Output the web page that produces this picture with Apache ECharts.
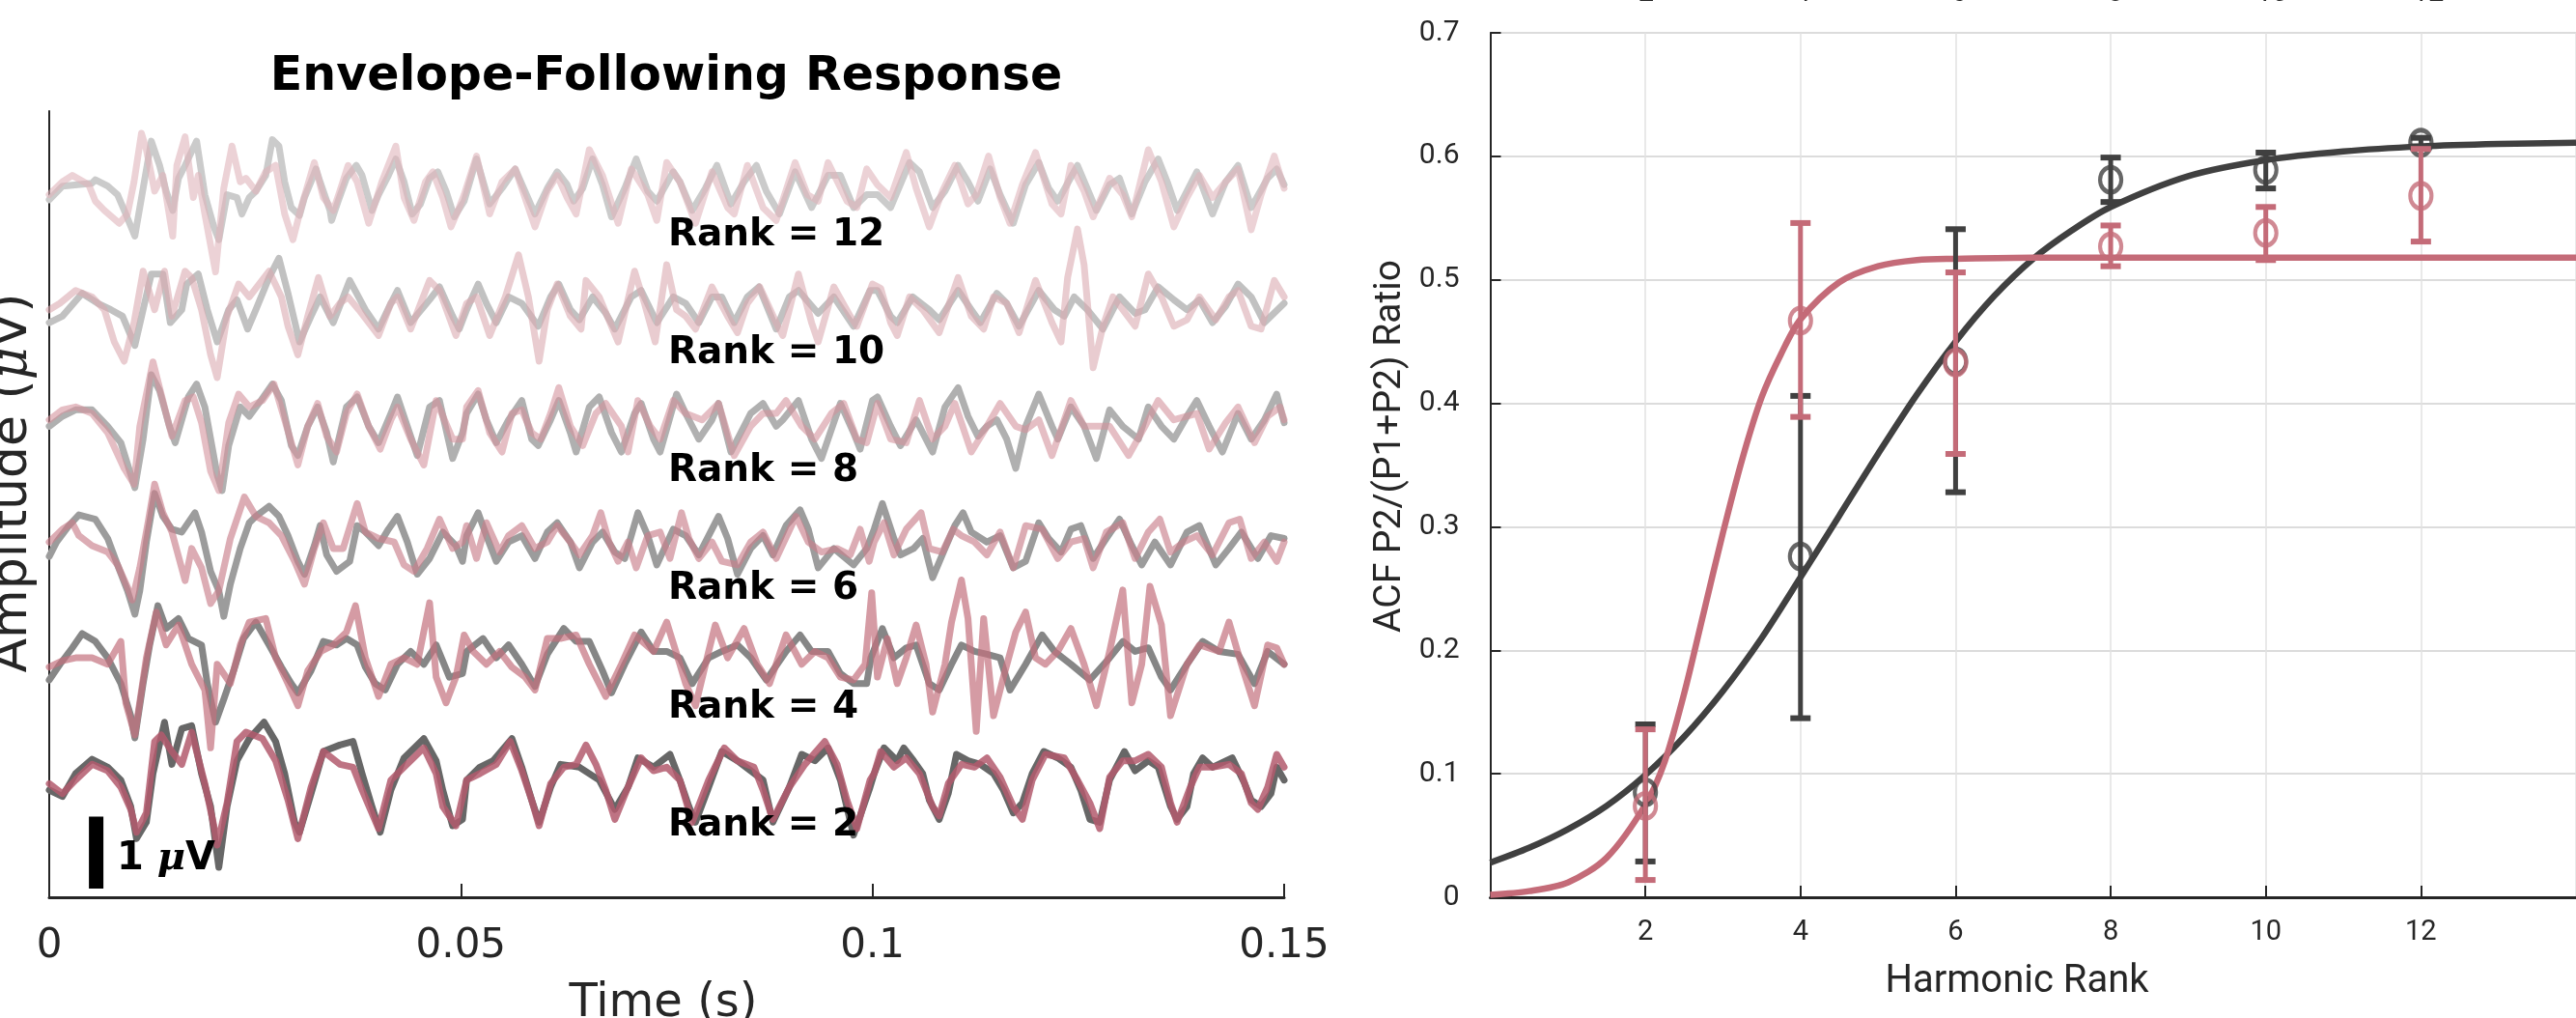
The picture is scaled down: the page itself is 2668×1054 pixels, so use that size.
<!DOCTYPE html>
<html>
<head>
<meta charset="utf-8">
<script src="https://cdn.jsdelivr.net/npm/echarts/dist/echarts.min.js"></script>
<style>
  html, body { margin: 0; padding: 0; background: #fff; }
  #chart { width: 2668px; height: 1054px; }
</style>
</head>
<body>
<div id="chart"></div>
<script>
// ---- left panel: envelope-following response traces, [time ms, amplitude uV] ----
const rankLabels = [2, 4, 6, 8, 10, 12];
const rankOffsetUv = [1.59, 3.26, 4.97, 6.59, 8.22, 9.9];

const grayRank2 = [[0,-0.09],[1.6,-0.18],[3.2,0.14],[5.2,0.34],[7.1,0.23],[8.7,0.05],[9.9,-0.32],[10.6,-0.77],[11.8,-0.54],[12.6,0.14],[14.0,0.86],[14.9,0.27],[16.1,0.77],[17.3,0.81],[18.5,0.14],[19.6,-0.32],[20.6,-1.17],[21.6,-0.32],[22.8,0.32],[24.3,0.63],[26.1,0.86],[27.5,0.59],[28.6,0.14],[29.8,-0.54],[30.4,-0.68],[31.8,-0.14],[33.3,0.45],[35.3,0.54],[36.9,0.59],[38.0,0.14],[39.2,-0.32],[40.2,-0.68],[41.5,-0.09],[43.1,0.36],[45.5,0.63],[47.0,0.32],[47.8,-0.09],[49.0,-0.59],[50.2,-0.5],
  [50.7,0.05],[52.3,0.23],[53.9,0.32],[56.2,0.63],[57.4,0.23],[58.6,-0.23],[59.5,-0.54],[60.9,-0.05],[62.1,0.27],[64.4,0.23],[66.8,0.05],[68.7,-0.36],[70.3,-0.05],[71.5,0.36],[73.4,0.23],[75.4,0.41],[76.6,0.05],[77.7,-0.32],[78.5,-0.54],[80.1,-0.05],[81.7,0.45],[83.6,0.32],[86.7,0.05],[87.9,-0.54],[89.9,-0.05],[91.4,0.41],[93.0,0.32],[94.6,0.5],[96.1,0.05],[97.7,-0.72],[99.7,-0.05],
  [100.2,0.14],[101.4,0.5],[103.0,0.32],[103.8,0.5],[105.0,0.32],[106.1,0.14],[106.9,-0.23],[108.1,-0.5],[109.2,-0.14],[110.2,0.41],[111.6,0.32],[113.1,0.27],[114.7,0.14],[115.9,-0.09],[117.1,-0.41],[118.2,-0.27],[119.4,0.14],[120.8,0.45],[122.5,0.36],[124.1,0.23],[125.3,-0.09],[126.4,-0.5],[127.6,-0.54],[128.8,0.05],[130.6,0.45],[131.9,0.18],[133.5,0.32],[134.7,0.23],[136.2,-0.32],[137.0,-0.5],[138.2,-0.32],[139.0,0.14],[140.1,0.36],[141.3,0.23],[143.7,0.36],[145.2,0],[146.0,-0.23],[147.2,-0.32],[148.4,-0.14],[149.1,0.23],[150,0.05]];
const pinkRank2 = [[0,0],[1.6,-0.14],[3.2,0.05],[5.2,0.27],[7.1,0.18],[8.7,-0.05],[9.9,-0.36],[10.6,-0.68],[11.8,-0.41],[12.8,0.59],[13.6,0.68],[14.9,0.45],[16.1,0.27],[17.3,0.72],[18.9,0],[20.0,-0.59],[20.4,-0.86],[21.6,-0.27],[22.8,0.59],[23.9,0.72],[25.9,0.63],[27.5,0.32],[29.0,-0.23],[30.2,-0.77],[31.8,-0.05],[33.3,0.45],[35.3,0.27],[36.9,0.23],[38.0,-0.09],[40.0,-0.63],[41.5,0.05],[43.1,0.23],[45.5,0.5],[47.0,0.14],[47.8,-0.32],[49.4,-0.59],
  [50.7,0.05],[52.3,0.14],[54.3,0.27],[56.0,0.59],[57.4,0.18],[58.6,-0.23],[59.5,-0.59],[60.9,0],[62.5,0.23],[64.0,0.27],[65.2,0.54],[66.4,0.27],[67.6,-0.09],[68.7,-0.5],[70.3,-0.05],[71.9,0.36],[73.4,0.18],[75.0,0.23],[76.6,0.05],[78.1,-0.54],[80.1,0.05],[82.0,0.5],[83.6,0.32],[85.6,0.23],[86.7,-0.09],[87.9,-0.5],[89.9,-0.05],[91.8,0.27],[94.2,0.59],[95.7,0.27],[96.9,-0.23],[98.1,-0.63],[99.7,0.05],
  [100.2,0.14],[101.0,0.45],[102.6,0.23],[104.1,0.36],[105.7,0.14],[107.3,-0.32],[108.1,-0.45],[109.2,0],[110.8,0.27],[112.4,0.23],[113.9,0.36],[115.5,0.09],[117.1,-0.32],[118.2,-0.5],[119.4,0.05],[121.0,0.41],[123.3,0.36],[124.9,0.05],[126.4,-0.27],[127.6,-0.63],[128.8,0.09],[130.4,0.32],[131.9,0.32],[133.5,0.41],[135.1,0.23],[136.2,-0.27],[137.0,-0.54],[138.6,-0.05],[139.7,0.23],[141.3,0.23],[143.3,0.27],[144.8,0.14],[146.0,-0.27],[146.8,-0.36],[148.0,-0.05],[149.1,0.41],[150,0.23]];

const grayRank4 = [[0,-0.22],[1.3,0],[2.8,0.23],[4.0,0.43],[5.6,0.32],[7.1,0.09],[8.7,-0.27],[9.9,-0.72],[10.4,-1.03],[11.4,-0.27],[12.2,0.27],[13.2,0.82],[14.2,0.5],[15.7,0.64],[16.9,0.36],[18.5,0.27],[19.2,-0.27],[20.2,-0.81],[21.2,-0.49],[22.4,-0.09],[23.6,0.36],[25.1,0.59],[26.7,0.27],[28.2,-0.04],[29.4,-0.27],[30.2,-0.4],[31.8,-0.09],[33.3,0.32],[34.9,0.27],[36.1,0.36],[37.4,0.27],[38.4,-0.04],[39.6,-0.27],[40.8,-0.36],[42.3,0],[43.9,0.18],[45.5,0],[47.0,0.27],[48.6,-0.18],[50.2,-0.13],
  [50.7,0.18],[52.7,0.36],[54.3,0.09],[55.8,0.27],[57.4,0],[59.0,-0.31],[60.5,0.14],[62.5,0.5],[64.0,0.32],[65.6,0.32],[67.2,-0.09],[68.3,-0.4],[69.9,0],[71.9,0.45],[73.4,0.18],[75.0,0.18],[76.6,0.09],[78.1,-0.27],[80.1,0.09],[81.7,0.18],[83.6,0.27],[85.2,0.09],[87.1,-0.22],[89.5,0.18],[91.2,0.41],[92.6,0.18],[94.6,0.18],[96.1,-0.13],[97.7,-0.27],[99.3,-0.27],
  [99.8,0.09],[101.2,0.5],[102.6,0.09],[104.1,0.23],[105.3,0.27],[106.9,-0.27],[108.1,-0.36],[109.6,0],[110.8,0.27],[112.4,0.18],[113.9,0.14],[115.5,0.09],[116.7,-0.36],[118.6,0],[120.6,0.41],[122.1,0.18],[124.1,0],[126.4,-0.22],[128.8,0.09],[130.4,0.32],[131.9,0.18],[133.5,0.23],[135.1,-0.18],[136.2,-0.36],[138.2,0],[140.1,0.32],[142.1,0.18],[144.4,0.14],[146.4,-0.27],[148.0,0.18],[150,0]];
const pinkRank4 = [[0,-0.04],[1.6,0.05],[3.2,0.09],[5.2,0.09],[7.1,0],[8.7,0.32],[9.3,-0.54],[10.4,-0.99],[11.8,0.09],[13.0,0.73],[14.2,0.27],[15.7,0.55],[17.3,0],[18.9,-0.36],[19.6,-1.17],[20.4,0],[22.0,-0.27],[23.2,0.27],[24.3,0.59],[26.3,0.64],[27.5,0.09],[29.0,-0.27],[30.2,-0.58],[31.4,-0.09],[33.0,0.18],[34.5,0.27],[36.1,0.45],[37.2,0.82],[38.4,0.09],[40.0,-0.45],[41.5,0],[43.1,0.09],[44.7,0],[46.2,0.86],[47.0,-0.18],[48.2,-0.54],[49.4,-0.18],
  [50.4,0.41],[51.5,0.18],[53.1,0],[54.7,0.18],[56.2,-0.04],[57.8,-0.18],[59.0,-0.36],[60.5,0.36],[62.1,0.36],[64.0,0.41],[65.6,0],[67.6,-0.45],[69.5,0],[71.1,0.41],[73.4,0.18],[75.0,0.59],[76.6,0],[77.3,-0.27],[78.5,-0.58],[80.1,0.18],[80.9,0.55],[82.4,0.09],[84.4,0.5],[86.0,0],[87.5,-0.27],[89.5,0.41],[91.4,0],[93.0,0.18],[94.6,0.09],[96.1,-0.18],[97.7,-0.22],[99.1,0],
  [99.9,1.0],[100.6,-0.18],[101.8,0.36],[103.0,-0.27],[104.1,0.09],[105.3,0.55],[106.5,0],[107.3,-0.67],[108.8,0],[109.6,0.59],[110.8,1.18],[111.6,0.64],[112.6,-0.94],[113.5,0.64],[114.7,-0.72],[115.9,-0.18],[117.4,0.45],[118.6,0.73],[119.8,0.09],[121.0,0],[122.5,0.18],[124.1,0.5],[125.7,0],[127.2,-0.58],[128.8,0.18],[130.4,1.04],[131.5,-0.54],[132.7,0],[133.7,1.09],[135.1,0.55],[136.2,-0.72],[138.2,0],[139.7,0.27],[142.1,0.18],[143.3,0.59],[144.8,0],[146.4,-0.58],[148.0,0.27],[149.1,0.23],[150,0]];

const grayRank6 = [[0,-0.2],[0.9,0],[2.4,0.23],[3.6,0.38],[5.6,0.32],[7.1,0.05],[8.3,-0.32],[9.5,-0.68],[10.4,-1.01],[11.0,-0.68],[11.8,0],[12.8,0.68],[13.8,0.36],[14.9,0.18],[16.1,0.14],[17.7,0.41],[18.5,0.14],[19.6,-0.41],[20.6,-0.68],[21.2,-1.04],[22.0,-0.59],[23.2,-0.09],[24.3,0.27],[25.1,0.36],[26.7,0.5],[27.9,0.36],[29.0,0.09],[30.2,-0.27],[31.0,-0.45],[32.2,-0.05],[32.9,0.23],[33.7,-0.18],[34.9,-0.41],[36.5,-0.27],[37.4,0.23],[38.4,0.14],[40.0,-0.05],[41.2,0.18],[42.3,0.36],[43.5,0],[44.7,-0.45],[46.2,-0.23],[47.8,0.14],[49.4,-0.05],[50.2,-0.27],
  [50.7,0.09],[52.1,0.41],[53.1,0.09],[54.3,-0.27],[55.8,0],[57.4,0.09],[59.0,-0.23],[60.5,0.14],[61.7,0.27],[63.3,0],[64.4,-0.36],[66.0,0],[67.2,0.14],[68.7,-0.14],[69.9,-0.23],[71.5,0.41],[72.7,0.09],[73.8,-0.32],[75.8,0.18],[77.3,0.09],[78.9,-0.18],[81.3,0.36],[82.4,0.05],[83.6,-0.45],[85.2,-0.09],[86.7,0.09],[87.9,-0.18],[89.5,0.23],[91.2,0.45],[92.2,0.18],[93.4,-0.36],[95.3,-0.09],[97.7,-0.32],[99.3,-0.09],
  [100.2,0.18],[101.2,0.54],[102.6,0.05],[103.4,-0.18],[105.0,-0.09],[106.1,0.05],[107.3,-0.5],[108.8,-0.09],[110.0,0.23],[111.0,0.41],[112.0,0.14],[113.9,0],[115.5,0.09],[117.1,-0.36],[118.6,-0.27],[120.2,0.27],[121.4,0.05],[122.9,-0.14],[124.1,0.18],[125.3,0.23],[126.8,-0.23],[128.4,0.05],[130.0,0.32],[131.5,-0.05],[132.7,-0.32],[134.3,0],[136.2,-0.32],[138.2,0.14],[139.7,0.23],[141.7,-0.32],[143.3,-0.09],[144.8,0.14],[146.8,-0.23],[148.4,0.09],[150,0.05]];
const pinkRank6 = [[0,0],[1.6,0.18],[2.8,0.27],[3.6,0.09],[5.2,-0.05],[7.1,-0.14],[8.3,-0.32],[9.5,-0.63],[10.1,-0.81],[11.0,-0.36],[12.0,0.27],[12.8,0.81],[13.8,0.41],[14.9,0.14],[16.5,-0.54],[17.3,-0.09],[18.5,-0.36],[19.6,-0.86],[20.6,-0.68],[22.0,0.05],[23.7,0.63],[25.1,0.36],[26.7,0.27],[28.2,0.09],[29.8,-0.27],[31.0,-0.59],[32.2,-0.09],[33.3,0.27],[34.5,-0.09],[35.7,-0.09],[37.4,0.54],[38.4,0.14],[40.0,0.05],[41.9,0],[43.1,-0.32],[44.3,-0.41],[45.9,-0.09],[47.4,0.32],[49.0,-0.09],[50.2,0],
  [50.7,0.23],[51.9,-0.23],[53.1,0.27],[54.7,-0.14],[55.8,0.09],[57.4,0.23],[59.0,-0.09],[60.5,0],[61.7,0.23],[63.3,0],[64.4,-0.18],[66.0,0.09],[67.0,0.41],[68.0,0],[69.1,-0.27],[70.3,0],[71.3,-0.36],[72.7,0.09],[74.2,0.14],[75.4,-0.23],[76.8,0.41],[77.7,0.05],[78.9,-0.23],[80.5,0],[81.7,-0.27],[83.6,-0.32],[85.2,0],[86.7,0.14],[88.3,-0.23],[90.7,0.36],[92.2,0],[93.8,-0.14],[95.7,-0.09],[97.3,-0.18],[98.5,0.18],[99.6,-0.27],
  [100.2,0],[101.4,0.27],[102.6,-0.18],[104.1,0.18],[105.9,0.41],[106.9,-0.09],[108.5,-0.14],[109.8,0.18],[110.8,0.09],[112.4,0],[113.9,-0.18],[115.5,0.14],[117.1,-0.36],[118.6,0.23],[120.6,0.18],[122.5,-0.23],[124.1,0],[125.7,0.05],[126.8,-0.36],[128.4,0.14],[130.4,0.27],[131.9,-0.23],[133.5,0.14],[134.9,0.32],[136.2,-0.14],[137.8,0],[139.4,0.09],[141.3,-0.18],[143.3,0.27],[144.6,0.32],[146.0,-0.23],[147.6,0],[149.1,-0.27],[150,0]];

const grayRank8 = [[0,0],[1.6,0.14],[3.2,0.23],[5.2,0.23],[7.1,0],[8.7,-0.23],[10.4,-0.86],[11.4,-0.18],[12.4,0.72],[13.4,0.5],[14.6,0],[15.3,-0.23],[16.9,0.41],[17.9,0.59],[18.9,0.27],[20.4,-0.68],[21.0,-0.9],[21.8,-0.27],[23.2,0.27],[24.3,0.14],[25.7,0.36],[27.1,0.59],[28.2,0.36],[29.4,-0.27],[30.2,-0.41],[31.4,0],[32.6,0.27],[33.7,-0.09],[34.5,-0.5],[36.1,0.27],[37.4,0.41],[38.8,0],[40.0,-0.23],[41.5,0.18],[42.3,0.41],[43.9,-0.14],[44.7,-0.41],[46.2,0.27],[47.4,0.36],[49.0,-0.45],[50.2,-0.09],
  [50.7,0.18],[52.1,0.45],[53.1,0.09],[54.3,-0.23],[55.8,0.09],[57.4,0.36],[58.6,-0.18],[59.4,-0.27],[60.9,0.09],[61.9,0.36],[63.3,-0.09],[64.0,-0.36],[65.6,0.27],[66.8,0.41],[68.3,-0.09],[69.5,-0.36],[71.1,0.18],[71.9,0.32],[73.4,-0.18],[74.2,-0.36],[76.2,0.45],[77.3,0.18],[78.9,-0.18],[80.5,0.09],[81.3,0.32],[82.8,-0.36],[85.2,0.18],[86.7,0.32],[88.3,0],[89.1,0.09],[91.0,0.36],[92.6,-0.18],[93.8,-0.45],[96.1,0.32],[97.7,-0.09],[98.5,-0.32],[100.0,0.36],
  [100.6,0.41],[102.2,0],[103.4,-0.27],[105.3,0.09],[107.3,-0.36],[108.8,0.27],[110.4,0.54],[111.6,0.14],[112.8,-0.14],[113.9,0],[115.1,0.09],[116.3,-0.18],[117.4,-0.59],[118.6,0],[120.2,0.45],[121.8,0],[122.5,-0.18],[124.1,0.27],[125.7,0],[127.2,-0.45],[128.8,0.23],[130.4,0],[132.3,-0.18],[133.5,0.27],[135.1,0],[136.6,-0.18],[138.2,0.14],[139.4,0.36],[140.9,0],[142.5,-0.36],[144.4,0.18],[146.0,-0.18],[147.6,0.09],[149.1,0.45],[150,0.05]];
const pinkRank8 = [[0,0.09],[1.6,0.23],[3.2,0.27],[5.2,0.18],[7.1,-0.09],[9.1,-0.59],[10.3,-0.81],[11.0,0],[12.6,0.9],[13.6,0.45],[14.9,-0.14],[16.5,0.36],[17.5,0.41],[18.5,0.05],[19.6,-0.63],[20.6,-0.9],[21.8,0.05],[23.0,0.45],[24.3,0.27],[25.9,0.36],[27.3,0.59],[28.6,0.09],[30.2,-0.54],[31.4,0],[32.6,0.32],[33.7,-0.14],[34.9,-0.36],[36.1,0.18],[37.4,0.45],[38.8,0],[40.2,-0.32],[41.5,0.09],[42.3,0.27],[43.9,-0.18],[45.5,-0.54],[47.0,0.36],[49.0,-0.18],[50.2,-0.18],
  [50.7,0.27],[52.1,0.5],[53.5,-0.09],[55.0,-0.36],[56.2,0.18],[57.4,0.23],[58.6,-0.09],[59.7,-0.18],[60.9,0.18],[61.9,0.54],[63.3,0],[64.8,-0.27],[66.4,0.18],[67.6,0.32],[69.5,0],[70.3,-0.36],[71.5,0.36],[73.0,0],[74.2,-0.18],[75.8,0.36],[77.3,0.18],[79.3,0.09],[81.3,0.32],[83.2,-0.41],[85.2,0],[86.7,0.18],[88.3,0.18],[89.5,0.36],[91.4,0],[93.0,-0.18],[95.0,0.18],[96.5,0.32],[98.1,-0.18],[99.3,-0.23],
  [100.6,0.32],[102.2,-0.18],[104.1,-0.23],[105.7,0.36],[107.3,-0.18],[108.8,0],[110.0,0.32],[112.0,-0.36],[113.9,0],[115.5,0.32],[117.4,0],[118.6,-0.05],[120.2,0.09],[121.8,-0.41],[124.1,0.36],[125.7,0],[128.8,0],[131.1,-0.41],[133.1,0],[134.7,0.36],[136.6,0.09],[139.4,0.18],[140.9,-0.32],[142.9,0.05],[144.4,0.27],[146.4,-0.23],[148.0,0.14],[149.5,0.27],[150,0.09]];

const grayRank10 = [[0,-0.18],[1.6,-0.09],[4.0,0.23],[5.9,0.09],[7.5,0],[8.9,-0.09],[10.4,-0.5],[11.4,0],[12.4,0.5],[13.8,0.5],[14.7,-0.18],[16.1,0],[16.7,0.36],[18.1,0.5],[19.2,0],[20.4,-0.45],[21.8,0],[22.8,0.14],[24.1,-0.27],[25.1,0],[26.7,0.45],[27.9,0.72],[29.0,0.23],[30.4,-0.45],[31.8,-0.09],[32.9,0.18],[34.5,-0.18],[36.5,0.41],[38.4,0],[40.0,-0.27],[41.5,0.09],[42.3,0.27],[43.9,-0.18],[46.2,0.14],[47.4,0.32],[49.0,-0.09],[49.8,-0.27],
  [50.7,0],[52.1,0.36],[53.1,0.09],[54.3,-0.18],[55.8,0.18],[57.4,0.09],[59.4,-0.23],[60.9,0.18],[61.9,0.36],[63.3,0],[64.4,-0.14],[66.0,0.18],[67.6,-0.05],[68.7,-0.27],[70.7,0.18],[71.9,0.27],[73.8,-0.18],[75.8,0.18],[77.3,0.09],[78.9,-0.18],[80.5,0.18],[81.7,0.18],[83.2,-0.18],[84.8,0.18],[86.2,0.32],[88.3,-0.27],[89.9,0.18],[91.0,0.27],[93.4,-0.05],[95.3,0.18],[97.7,-0.23],[99.7,0.27],
  [100.6,0.27],[102.2,-0.09],[103.0,-0.18],[104.9,0.18],[106.9,0],[108.1,-0.14],[110.4,0.27],[112.0,0],[113.1,-0.18],[115.1,0.23],[116.3,0.09],[117.8,-0.23],[120.2,0.27],[122.1,0],[123.3,-0.09],[124.5,0.18],[126.1,0],[128.0,-0.27],[130.0,0.18],[131.9,-0.05],[133.1,0],[134.7,0.32],[136.6,0.14],[138.2,0],[139.7,0.14],[141.3,-0.18],[142.9,0.05],[144.4,0.36],[146.0,0.18],[147.6,-0.18],[150,0.09]];
const pinkRank10 = [[0,0],[1.3,0.09],[3.2,0.27],[5.2,0.18],[6.7,0],[7.9,-0.45],[9.1,-0.72],[10.3,-0.18],[11.4,0.54],[12.8,0],[14.0,0.54],[14.9,-0.09],[16.5,0.54],[17.3,0.45],[18.5,0],[19.6,-0.63],[20.4,-0.95],[21.6,-0.09],[23.0,0.36],[24.3,0.18],[25.5,0.36],[26.7,0.54],[28.2,0.18],[29.0,-0.23],[30.2,-0.63],[31.4,-0.09],[32.7,0.45],[34.1,-0.09],[35.3,0.09],[36.3,0.18],[37.6,0],[40.0,-0.36],[41.5,0.09],[42.3,0.18],[43.9,-0.27],[46.2,0.41],[47.4,0.27],[49.4,-0.36],
  [50.7,0.09],[51.9,0.18],[53.5,-0.36],[55.4,0.18],[57.0,0.77],[58.2,0.18],[59.5,-0.72],[60.5,0],[61.7,0.36],[63.3,-0.09],[64.6,-0.27],[65.2,0.41],[66.8,0.18],[69.1,-0.45],[71.1,0.54],[72.3,0.09],[73.6,-0.45],[75.0,0.63],[76.2,0],[77.3,-0.09],[78.5,-0.27],[80.5,0.32],[82.4,-0.09],[83.6,-0.32],[84.8,0.09],[86.3,0.32],[88.3,-0.18],[89.1,-0.36],[91.0,0.5],[92.6,-0.18],[93.4,-0.45],[95.3,0.32],[97.3,-0.09],[98.1,-0.23],[100.0,0.36],
  [101.0,0.3],[102.2,-0.18],[103.0,-0.36],[104.5,0.18],[106.1,0],[108.1,-0.32],[110.4,0.45],[112.0,-0.09],[113.5,-0.27],[114.7,0.18],[116.3,0.09],[117.8,-0.32],[119.8,0.41],[121.8,-0.18],[122.9,-0.45],[123.7,0.45],[124.9,1.13],[125.7,0.63],[126.8,-0.81],[128.0,-0.23],[129.2,0.18],[130.4,0],[131.9,-0.23],[133.5,0.5],[135.1,0.18],[136.6,-0.23],[138.2,-0.14],[139.7,0.18],[141.7,-0.14],[143.3,0.18],[144.4,0.27],[146.0,-0.23],[147.2,-0.27],[148.8,0.41],[150,0.18]];

const grayRank12 = [[0,-0.14],[1.6,0.05],[5.2,0.09],[5.6,0.14],[7.1,0.05],[8.3,-0.07],[9.3,-0.34],[10.4,-0.65],[12.4,0.68],[13.4,0.34],[14.2,-0.02],[15.0,-0.29],[15.7,0.16],[16.5,0.34],[17.9,0.68],[18.9,-0.07],[20.0,-0.52],[20.6,-0.7],[21.6,-0.07],[22.8,-0.11],[23.4,-0.34],[24.3,-0.11],[25.1,-0.02],[26.3,0.2],[27.1,0.7],[27.9,0.61],[28.6,0.11],[29.4,-0.25],[30.4,-0.36],[31.0,-0.11],[31.8,0.11],[32.4,0.29],[32.9,0.11],[34.1,-0.29],[34.3,-0.43],[35.1,-0.16],[36.1,0.16],[37.3,0.34],[38.0,0.2],[39.2,-0.29],[40.0,-0.07],[41.2,0.2],[42.1,0.43],[43.1,0.11],[44.1,-0.34],[45.1,-0.2],[46.2,0.16],[47.2,0.25],[48.2,-0.02],[49.2,-0.38],
  [50.4,-0.16],[51.9,0.43],[53.5,-0.2],[55.0,0.02],[56.6,0.29],[59.0,-0.34],[60.5,0.02],[61.7,0.25],[62.9,0.07],[63.7,-0.16],[64.8,0.02],[66.0,0.43],[67.2,0.07],[68.3,-0.38],[69.9,0.02],[71.3,0.43],[72.7,-0.02],[73.8,-0.16],[75.8,0.25],[76.6,0.11],[78.1,-0.29],[79.7,0.02],[81.1,0.34],[82.8,-0.2],[84.4,0.11],[85.9,0.34],[87.1,-0.02],[88.7,-0.34],[90.6,0.25],[92.6,-0.25],[94.6,0.2],[96.1,0.2],[97.7,-0.25],[99.3,-0.07],
  [100.6,-0.07],[102.2,-0.25],[104.5,0.38],[105.7,0.25],[107.3,-0.25],[108.8,-0.02],[110.4,0.34],[111.6,0.11],[112.8,-0.16],[114.3,0.29],[115.5,-0.07],[117.1,-0.47],[118.6,0.07],[120.2,0.38],[121.4,0.02],[122.5,-0.16],[124.9,0.34],[126.4,-0.07],[127.2,-0.29],[128.8,0.07],[130.0,0.16],[131.5,-0.34],[133.1,0.11],[134.7,0.43],[135.8,0.11],[137.0,-0.29],[139.4,0.25],[141.3,-0.34],[142.9,0.11],[144.4,0.34],[146.0,-0.25],[148.0,0.16],[149.1,0.29],[150,0.07]];
const pinkRank12 = [[0,-0.07],[1.6,0.11],[2.8,0.2],[4.8,0.07],[5.6,-0.16],[6.7,-0.29],[8.5,-0.47],[9.5,-0.34],[10.3,0.11],[11.2,0.79],[11.8,0.56],[12.8,-0.02],[13.8,0.2],[15.0,-0.65],[15.5,0.34],[16.5,0.74],[17.5,-0.11],[18.1,0.2],[18.9,-0.34],[20.2,-1.15],[21.2,0.02],[22.2,0.61],[23.2,0.11],[23.9,0.16],[25.1,-0.02],[26.3,0.25],[27.5,0.34],[28.6,-0.34],[29.6,-0.7],[30.6,-0.25],[32.2,0.38],[33.3,-0.11],[34.5,-0.29],[35.3,-0.02],[36.3,0.34],[37.4,0.11],[38.8,-0.47],[40.4,0.11],[42.1,0.61],[43.1,-0.11],[44.3,-0.43],[45.7,0.11],[46.6,0.25],[47.8,-0.11],[48.8,-0.52],[49.8,-0.25],
  [50.4,-0.07],[51.9,0.47],[53.5,-0.34],[55.0,0.11],[56.6,0.29],[59.0,-0.52],[60.5,-0.02],[61.7,0.2],[62.9,-0.11],[64.0,-0.34],[65.6,0.56],[67.2,0.2],[69.1,-0.47],[70.7,0.29],[72.7,-0.07],[73.8,-0.43],[75.0,0.38],[76.6,0.11],[78.5,-0.47],[80.5,0.25],[82.4,-0.25],[83.2,-0.34],[84.8,0.34],[86.7,-0.25],[88.3,-0.43],[90.6,0.38],[92.1,-0.07],[93.4,-0.16],[94.6,0.38],[96.9,-0.16],[98.1,-0.25],[99.3,0.29],
  [100.6,0.07],[102.2,-0.11],[104.1,0.52],[105.3,0.02],[106.9,-0.52],[108.5,-0.02],[110.0,0.34],[111.6,-0.2],[112.6,-0.07],[114.1,0.47],[115.5,-0.11],[116.7,-0.47],[118.2,0.07],[119.8,0.52],[121.8,-0.2],[122.9,-0.34],[124.1,0.34],[125.7,-0.02],[126.8,-0.38],[128.8,0.16],[130.4,-0.07],[131.5,-0.38],[133.5,0.56],[135.1,0.11],[136.6,-0.52],[138.2,-0.11],[139.7,0.2],[141.3,-0.11],[142.9,0.11],[144.4,0.29],[146.0,-0.56],[147.2,-0.07],[148.8,0.47],[150,0.02]];

const grayTraces = [grayRank2, grayRank4, grayRank6, grayRank8, grayRank10, grayRank12];
const pinkTraces = [pinkRank2, pinkRank4, pinkRank6, pinkRank8, pinkRank10, pinkRank12];

// 1 uV scale bar
const scaleBarTime = 0.0057;
const scaleBarUv = [0.12, 1.13];

// ---- right panel: ACF ratio vs harmonic rank ----
const harmonicRanks = [2, 4, 6, 8, 10, 12];
const blackMean = [0.085, 0.276, 0.434, 0.581, 0.589, 0.611];
const blackLow  = [0.029, 0.145, 0.328, 0.563, 0.574, 0.608];
const blackHigh = [0.140, 0.406, 0.541, 0.599, 0.603, 0.615];
const pinkMean  = [0.074, 0.467, 0.433, 0.527, 0.538, 0.568];
const pinkLow   = [0.014, 0.389, 0.359, 0.511, 0.516, 0.531];
const pinkHigh  = [0.136, 0.546, 0.506, 0.544, 0.559, 0.606];

// fitted curves
const blackFitX = [0, 0.5, 1, 1.5, 2, 2.5, 3, 3.5, 4, 4.5, 5, 5.5, 6, 6.5, 7, 7.5, 8, 9, 10, 11, 12, 13, 14];
const blackFitY = [0.028, 0.040, 0.055, 0.074, 0.099, 0.130, 0.167, 0.210, 0.259, 0.309, 0.359, 0.407, 0.450, 0.487, 0.517, 0.540, 0.559, 0.584, 0.597, 0.604, 0.608, 0.610, 0.611];
const pinkFitX = [0, 0.5, 1, 1.5, 2, 2.25, 2.5, 2.75, 3, 3.25, 3.5, 3.75, 4, 4.5, 5, 5.5, 6, 7, 8, 10, 12, 14];
const pinkFitY = [0.002, 0.005, 0.012, 0.032, 0.075, 0.110, 0.165, 0.230, 0.295, 0.355, 0.405, 0.440, 0.468, 0.498, 0.511, 0.516, 0.517, 0.518, 0.518, 0.518, 0.518, 0.518];

// ---- styles ----
const grayColors = ['#676767', '#868686', '#9c9c9c', '#b0b0b0', '#c1c1c1', '#cbcbcb'];
const pinkColors = ['#b35a6d', '#c3717e', '#c9808c', '#d4939c', '#daaab1', '#dfb4bb'];
const pinkOpacity = [0.85, 0.7, 0.65, 0.6, 0.6, 0.6];
const darkColor = '#404040';
const roseColor = '#c46b78';
const axisColor = '#262626';

const chart = echarts.init(document.getElementById('chart'));

function traceSeries(points, color, opacity, i) {
  return {
    type: 'line',
    xAxisIndex: 0,
    yAxisIndex: 0,
    data: points.map(p => [p[0] / 1000, p[1] + rankOffsetUv[i]]),
    symbol: 'none',
    silent: true,
    lineStyle: { color: color, width: 7, opacity: opacity, join: 'round', cap: 'round' },
    z: 2
  };
}

function errorBarSeries(low, high, color, z) {
  return {
    type: 'custom',
    xAxisIndex: 1,
    yAxisIndex: 1,
    z: z,
    silent: true,
    data: harmonicRanks.map((r, k) => [r, low[k], high[k]]),
    encode: { x: 0, y: [1, 2] },
    renderItem: function (params, api) {
      const lo = api.coord([api.value(0), api.value(1)]);
      const hi = api.coord([api.value(0), api.value(2)]);
      const hw = 10.5;
      return {
        type: 'group',
        children: [
          { type: 'line', shape: { x1: lo[0], y1: lo[1], x2: hi[0], y2: hi[1] }, style: { stroke: color, lineWidth: 5 } },
          { type: 'line', shape: { x1: lo[0] - hw, y1: lo[1], x2: lo[0] + hw, y2: lo[1] }, style: { stroke: color, lineWidth: 6 } },
          { type: 'line', shape: { x1: hi[0] - hw, y1: hi[1], x2: hi[0] + hw, y2: hi[1] }, style: { stroke: color, lineWidth: 6 } }
        ]
      };
    }
  };
}

function meanSeries(values, color, z) {
  return {
    type: 'scatter',
    xAxisIndex: 1,
    yAxisIndex: 1,
    z: z,
    silent: true,
    symbol: 'circle',
    symbolSize: [22, 26],
    data: harmonicRanks.map((r, k) => [r, values[k]]),
    itemStyle: { color: 'rgba(0,0,0,0)', borderColor: color, borderWidth: 4.5 }
  };
}

function fitSeries(xs, ys, color, z) {
  return {
    type: 'line',
    xAxisIndex: 1,
    yAxisIndex: 1,
    z: z,
    silent: true,
    smooth: 0.3,
    symbol: 'none',
    data: xs.map((x, k) => [x, ys[k]]),
    lineStyle: { color: color, width: 6.5 }
  };
}

const series = [];
for (let i = rankLabels.length - 1; i >= 0; i--) {
  series.push(traceSeries(grayTraces[i], grayColors[i], 1, i));
  series.push(traceSeries(pinkTraces[i], pinkColors[i], pinkOpacity[i], i));
}
series.push({
  type: 'line',
  xAxisIndex: 0,
  yAxisIndex: 0,
  z: 5,
  silent: true,
  symbol: 'none',
  data: scaleBarUv.map(v => [scaleBarTime, v]),
  lineStyle: { color: '#000', width: 15, cap: 'butt' }
});
series.push(fitSeries(blackFitX, blackFitY, darkColor, 3));
series.push(fitSeries(pinkFitX, pinkFitY, roseColor, 3));
series.push(errorBarSeries(blackLow, blackHigh, darkColor, 4));
series.push(meanSeries(blackMean, darkColor, 5));
series.push(errorBarSeries(pinkLow, pinkHigh, roseColor, 6));
series.push(meanSeries(pinkMean, roseColor, 7));

function txt(x, y, text, size, opts) {
  opts = opts || {};
  return {
    type: 'text',
    x: x,
    y: y,
    rotation: opts.rotation || 0,
    silent: true,
    z: 20,
    style: {
      text: text,
      fontSize: size,
      fontFamily: opts.family || 'DejaVu Sans',
      fontWeight: opts.weight || 'normal',
      fill: opts.color || axisColor,
      align: opts.align || 'center',
      textAlign: opts.align || 'center',
      verticalAlign: 'middle',
      textVerticalAlign: 'middle'
    }
  };
}

const rankLabelY = [855, 733, 610, 488, 366, 244];
const graphics = [
  txt(690, 80, 'Envelope-Following Response', 49, { weight: 'bold', color: '#000' }),
  txt(687, 1040, 'Time (s)', 48),
  {
    type: 'text', x: 13, y: 500, rotation: Math.PI / 2, silent: true, z: 20,
    style: {
      text: '{n|Amplitude (}{m|\u03bc}{n|V)}',
      align: 'center', textAlign: 'center', verticalAlign: 'middle', textVerticalAlign: 'middle',
      rich: {
        n: { fontFamily: 'DejaVu Sans', fontSize: 52, fill: axisColor, color: axisColor },
        m: { fontFamily: 'DejaVu Serif', fontStyle: 'italic', fontSize: 52, fill: axisColor, color: axisColor }
      }
    }
  },
  txt(2089, 1017, 'Harmonic Rank', 40, { family: 'Roboto' }),
  txt(1440, 462, 'ACF P2/(P1+P2) Ratio', 39, { family: 'Roboto', rotation: Math.PI / 2 }),
  {
    type: 'text', x: 121, y: 890, silent: true, z: 20,
    style: {
      text: '{n|1 }{m|\u03bc}{n|V}',
      align: 'left', textAlign: 'left', verticalAlign: 'middle', textVerticalAlign: 'middle',
      rich: {
        n: { fontFamily: 'DejaVu Sans', fontWeight: 'bold', fontSize: 40, fill: '#000', color: '#000' },
        m: { fontFamily: 'DejaVu Serif', fontStyle: 'italic', fontWeight: 'bold', fontSize: 40, fill: '#000', color: '#000' }
      }
    }
  }
];
rankLabels.forEach((r, i) => {
  graphics.push(txt(692, rankLabelY[i], 'Rank = ' + r, 39, { weight: 'bold', color: '#000', align: 'left' }));
});
// tick labels of the panel above, cut off by the top edge
const topCutX = [1705, 1867, 2029, 2191, 2353, 2515];
harmonicRanks.forEach((r, k) => {
  graphics.push(txt(topCutX[k], -6, String(r), 29, { family: 'Roboto' }));
});

chart.setOption({
  animation: false,
  backgroundColor: '#fff',
  grid: [
    { left: 51, top: 115, width: 1279, height: 814 },
    { left: 1543.5, top: 34, width: 1133, height: 895 }
  ],
  xAxis: [
    {
      gridIndex: 0, type: 'value', min: 0, max: 0.15, interval: 0.05,
      axisLine: { show: true, lineStyle: { color: axisColor, width: 3 } },
      axisTick: { show: true, inside: true, length: 14, lineStyle: { color: axisColor, width: 2 } },
      axisLabel: { margin: 30, fontFamily: 'DejaVu Sans', fontSize: 42, color: axisColor },
      splitLine: { show: false }
    },
    {
      gridIndex: 1, type: 'value', min: 0, max: 14, interval: 2,
      axisLine: { show: true, lineStyle: { color: axisColor, width: 3 } },
      axisTick: { show: true, inside: true, length: 12, lineStyle: { color: axisColor, width: 2 } },
      axisLabel: { margin: 22, fontFamily: 'Roboto', fontSize: 29, color: axisColor, showMinLabel: false, showMaxLabel: false },
      splitLine: { show: true, lineStyle: { color: '#e2e2e2', width: 1.5 } }
    }
  ],
  yAxis: [
    {
      gridIndex: 0, type: 'value', min: 0, max: 11,
      axisLine: { show: true, onZero: false, lineStyle: { color: axisColor, width: 2 } },
      axisTick: { show: false },
      axisLabel: { show: false },
      splitLine: { show: false }
    },
    {
      gridIndex: 1, type: 'value', min: 0, max: 0.7, interval: 0.1,
      axisLine: { show: true, onZero: false, lineStyle: { color: axisColor, width: 2 } },
      axisTick: { show: true, inside: true, length: 11, lineStyle: { color: axisColor, width: 2 } },
      axisLabel: { margin: 32, fontFamily: 'Roboto', fontSize: 30, color: axisColor },
      splitLine: { show: true, lineStyle: { color: '#dcdcdc', width: 2 } }
    }
  ],
  series: series,
  graphic: graphics
});
</script>
</body>
</html>
